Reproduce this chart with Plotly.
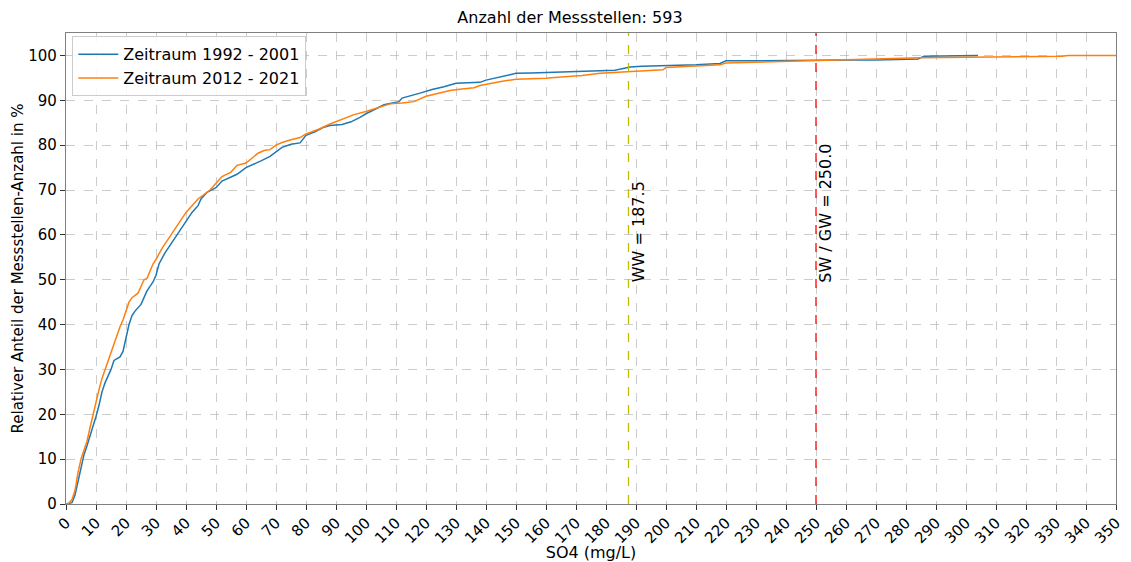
import plotly.graph_objects as go

# Zeitraum 1992 - 2001
x_1992 = [0, 2, 3, 4, 5, 6, 7, 8, 9, 10, 11, 12, 13, 14, 15, 16, 18, 19, 20, 21, 22, 23, 25, 26, 27, 28, 29, 30,
          31, 33, 35, 38, 40, 42, 44, 45, 47, 50, 52, 55, 57, 60, 63, 65, 68, 70, 72, 75, 78, 80, 83, 86, 88, 92,
          95, 98, 100, 103, 106, 108, 111, 112, 115, 118, 122, 126, 130, 135, 138, 140, 145, 150, 155, 160, 165,
          175, 183, 185, 188, 192, 200, 210, 218, 220, 230, 240, 250, 260, 270, 284, 286, 295, 304]
y_1992 = [0, 0.3, 2, 5, 8, 11, 13, 15, 17, 19.5, 22, 25, 27, 28.5, 30, 32, 32.8, 34, 37, 40, 42, 43, 44.5, 46, 47.5,
          48.5, 49.5, 51, 53.5, 56, 58, 61, 63, 65, 66.5, 68, 69.5, 70.5, 72, 72.8, 73.5, 75, 75.8, 76.5, 77.5, 78.5,
          79.5, 80.2, 80.5, 82.2, 83, 84, 84.4, 84.6, 85.2, 86.2, 87, 88, 89, 89.3, 89.7, 90.5, 91, 91.6, 92.4, 93,
          93.8, 93.9, 94, 94.5, 95.2, 96, 96.1, 96.2, 96.4, 96.5, 96.7, 97, 97.4, 97.6, 97.7, 97.9, 98.2, 98.8, 98.8,
          98.9, 98.9, 99, 99, 99.2, 99.8, 99.9, 100]

# Zeitraum 2012 - 2021
x_2012 = [0, 1, 2, 3, 4, 5, 6, 7, 8, 9, 10, 11, 12, 13, 14, 15, 16, 17, 18, 19, 20, 21, 22, 24, 25, 26, 27, 28, 29,
          30, 32, 34, 36, 38, 40, 42, 44, 46, 48, 50, 52, 55, 57, 60, 62, 64, 66, 68, 70, 72, 75, 78, 80, 84, 88,
          92, 96, 100, 104, 108, 112, 116, 120, 124, 128, 132, 136, 138, 140, 145, 150, 160, 165, 172, 178, 186,
          194, 199, 200, 210, 218, 220, 235, 249, 260, 270, 285, 300, 320, 332, 334, 350]
y_2012 = [0, 0.2, 1, 3, 7, 10, 12, 14, 17, 20, 23, 25.5, 28, 30, 32, 34, 36, 38, 39.5, 41, 43, 45, 46, 47, 48.5, 50,
          50.3, 52, 53.5, 54.5, 57, 59, 61, 63, 65, 66.5, 68, 69, 70, 71.5, 73, 74, 75.5, 76, 77, 78.2, 78.8, 79, 80,
          80.6, 81.2, 81.7, 82.5, 83.5, 84.7, 85.7, 86.8, 87.5, 88.4, 89.2, 89.4, 89.7, 90.9, 91.5, 92.2, 92.5, 92.8,
          93.3, 93.6, 94.2, 94.7, 94.9, 95.2, 95.5, 96, 96.3, 96.6, 96.8, 97.3, 97.6, 97.9, 98.3, 98.6, 98.9, 99.1,
          99.3, 99.5, 99.6, 99.7, 99.8, 100, 100]

ww_value = 187.5
sw_gw_value = 250.0
x_ticks = list(range(0, 351, 10))
y_ticks = list(range(0, 101, 10))

FONT = "DejaVu Sans"
W, H = 1131, 562
L, R, T, B = 66, 15, 33, 58

fig = go.Figure()
fig.add_trace(go.Scatter(x=x_1992, y=y_1992, mode="lines", name="Zeitraum 1992 - 2001",
                         line=dict(color="#1f77b4", width=1.5)))
fig.add_trace(go.Scatter(x=x_2012, y=y_2012, mode="lines", name="Zeitraum 2012 - 2021",
                         line=dict(color="#ff7f0e", width=1.5)))

fig.add_shape(type="line", x0=ww_value, x1=ww_value, y0=0, y1=1, xref="x", yref="paper",
              line=dict(color="#bfbf00", width=1.3, dash="dash"))
fig.add_shape(type="line", x0=sw_gw_value, x1=sw_gw_value, y0=0, y1=1, xref="x", yref="paper",
              line=dict(color="#ff0000", width=1.3, dash="dash"))

fig.add_annotation(x=ww_value, y=50, text=f"WW = {ww_value}", textangle=-90, showarrow=False,
                   xanchor="left", yanchor="bottom", xshift=-2, yshift=-5,
                   font=dict(family=FONT, size=16, color="#000000"))
fig.add_annotation(x=sw_gw_value, y=50, text=f"SW / GW = {sw_gw_value}", textangle=-90, showarrow=False,
                   xanchor="left", yanchor="bottom", xshift=-2, yshift=-5,
                   font=dict(family=FONT, size=16, color="#000000"))

grid = dict(showgrid=True, gridcolor="rgba(170,170,170,0.6)", griddash="dash", gridwidth=1,
            showline=True, linecolor="#808080", linewidth=1.2, mirror=True, zeroline=False,
            ticks="outside", ticklen=5, tickcolor="#333333", automargin=False,
            tickfont=dict(family=FONT, size=15, color="#000000"))

fig.update_xaxes(range=[0, 350], tickvals=x_ticks, tickangle=-45, ticklabelstandoff=-2,
                 title=dict(text="SO4 (mg/L)", font=dict(family=FONT, size=16, color="#000000"), standoff=2),
                 **grid)
fig.update_yaxes(range=[0, 105], tickvals=y_ticks,
                 title=dict(text="Relativer Anteil der Messstellen-Anzahl in %",
                            font=dict(family=FONT, size=15, color="#000000"), standoff=1),
                 **grid)

fig.update_layout(
    width=W, height=H,
    margin=dict(l=L, r=R, t=T, b=B, autoexpand=False),
    paper_bgcolor="white", plot_bgcolor="white",
    font=dict(family=FONT, size=14, color="#000000"),
    title=dict(text="Anzahl der Messstellen: 593", x=570 / W, xanchor="center", xref="container",
               y=1 - 17 / H, yanchor="middle", yref="container",
               font=dict(family=FONT, size=16, color="#000000")),
    legend=dict(x=0.006, y=0.993, xanchor="left", yanchor="top", itemwidth=40,
                bgcolor="rgba(255,255,255,0.85)", bordercolor="#cccccc", borderwidth=1,
                font=dict(family=FONT, size=16, color="#000000"), tracegroupgap=0),
    showlegend=True,
)

fig.write_html("out.html")
